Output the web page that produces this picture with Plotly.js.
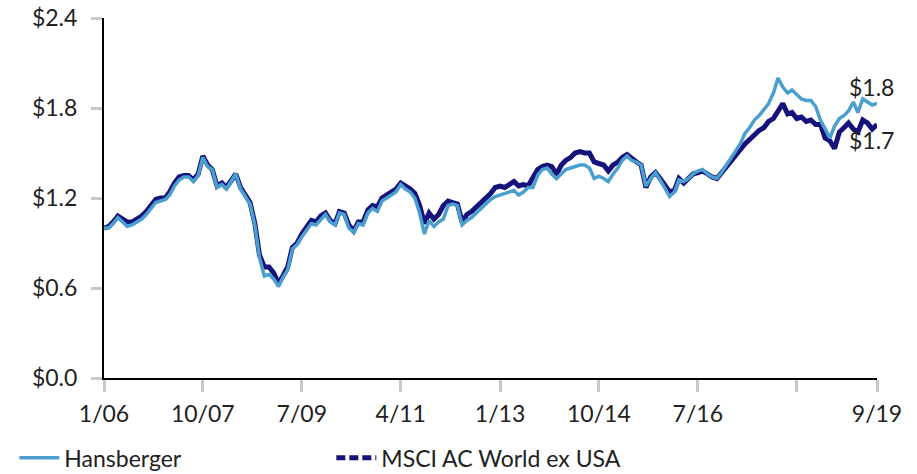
<!DOCTYPE html>
<html>
<head>
<meta charset="utf-8">
<script src="https://cdn.plot.ly/plotly-3.0.1.min.js"></script>
<style>
  html, body { margin: 0; padding: 0; background: #ffffff; }
  #chart { width: 917px; height: 474px; }
</style>
</head>
<body>
<div id="chart"></div>
<script>
// Monthly values, January 2006 through September 2019 (growth of $1)
const startYear = 2006, startMonth = 1;

const hansberger = [
  1.00, 1.00, 1.03, 1.07, 1.04, 1.01, 1.02, 1.04, 1.06, 1.09, 1.13, 1.17,
  1.18, 1.19, 1.22, 1.28, 1.32, 1.34, 1.34, 1.31, 1.35, 1.47, 1.41, 1.39,
  1.27, 1.29, 1.26, 1.31, 1.36, 1.26, 1.21, 1.16, 1.02, 0.80, 0.68, 0.69,
  0.66, 0.61, 0.67, 0.72, 0.86, 0.89, 0.94, 0.99, 1.03, 1.02, 1.06, 1.09,
  1.04, 1.02, 1.10, 1.09, 1.00, 0.97, 1.03, 1.02, 1.10, 1.13, 1.11, 1.18,
  1.20, 1.22, 1.24, 1.29, 1.26, 1.24, 1.20, 1.10, 0.96, 1.05, 1.01, 1.04,
  1.06, 1.15, 1.16, 1.15, 1.02, 1.05, 1.07, 1.10, 1.13, 1.165, 1.19, 1.21,
  1.22, 1.23, 1.24, 1.25, 1.22, 1.24, 1.27, 1.27, 1.35, 1.39, 1.40, 1.36,
  1.33, 1.36, 1.39, 1.40, 1.41, 1.42, 1.42, 1.40, 1.33, 1.345, 1.33, 1.31,
  1.36, 1.40, 1.45, 1.48, 1.45, 1.44, 1.42, 1.28, 1.33, 1.37, 1.32, 1.27,
  1.21, 1.24, 1.32, 1.31, 1.33, 1.36, 1.38, 1.39, 1.36, 1.34, 1.33, 1.37,
  1.42, 1.47, 1.52, 1.56, 1.63, 1.67, 1.72, 1.75, 1.79, 1.83, 1.90, 2.00,
  1.94, 1.90, 1.92, 1.89, 1.86, 1.85, 1.85, 1.81, 1.72, 1.66, 1.60, 1.68,
  1.73, 1.75, 1.78, 1.84, 1.77, 1.86, 1.84, 1.82, 1.83
];

const msci = [
  1.00, 1.01, 1.04, 1.08, 1.06, 1.04, 1.04, 1.06, 1.08, 1.11, 1.15, 1.19,
  1.20, 1.20, 1.24, 1.30, 1.34, 1.35, 1.35, 1.32, 1.36, 1.48, 1.42, 1.39,
  1.28, 1.30, 1.27, 1.31, 1.36, 1.27, 1.22, 1.17, 1.03, 0.82, 0.74, 0.74,
  0.70, 0.63, 0.68, 0.74, 0.87, 0.90, 0.96, 1.01, 1.05, 1.04, 1.08, 1.10,
  1.05, 1.03, 1.11, 1.10, 1.02, 0.98, 1.04, 1.04, 1.12, 1.15, 1.14, 1.20,
  1.22, 1.24, 1.26, 1.30, 1.28, 1.26, 1.23, 1.15, 1.03, 1.10, 1.06, 1.09,
  1.15, 1.18, 1.17, 1.16, 1.04, 1.09, 1.11, 1.14, 1.17, 1.20, 1.23, 1.27,
  1.28, 1.27, 1.29, 1.31, 1.28, 1.29, 1.28, 1.33, 1.39, 1.41, 1.42, 1.41,
  1.36, 1.42, 1.45, 1.47, 1.50, 1.51, 1.50, 1.50, 1.44, 1.43, 1.42, 1.38,
  1.42, 1.44, 1.47, 1.49, 1.46, 1.44, 1.42, 1.27, 1.34, 1.37, 1.33, 1.28,
  1.24, 1.25, 1.33, 1.30, 1.33, 1.36, 1.37, 1.38, 1.36, 1.34, 1.33, 1.37,
  1.41, 1.45, 1.49, 1.53, 1.56, 1.59, 1.62, 1.65, 1.67, 1.71, 1.73, 1.78,
  1.83, 1.76, 1.77, 1.73, 1.74, 1.71, 1.72, 1.69, 1.69, 1.60, 1.58, 1.53,
  1.64, 1.67, 1.70, 1.66, 1.64, 1.72, 1.70, 1.66, 1.69
];

const tickDates = ['2006-01-01','2007-10-01','2009-07-01','2011-04-01','2013-01-01',
                   '2014-10-01','2016-07-01','2018-04-01','2019-09-01'];
const tickLabels = ['1/06','10/07','7/09','4/11','1/13','10/14','7/16','','9/19'];
const yTicks = [0, 0.6, 1.2, 1.8, 2.4];
const yTickLabels = ['$0.0','$0.6','$1.2','$1.8','$2.4'];
const seriesNames = ['Hansberger', 'MSCI AC World ex USA'];

// month dates for the x axis
const dates = hansberger.map((_, i) => {
  const y = startYear + Math.floor((startMonth - 1 + i) / 12);
  const m = ((startMonth - 1 + i) % 12) + 1;
  return y + '-' + String(m).padStart(2, '0') + '-01';
});

const LIGHT = '#4a9fcf';
const NAVY = '#16127c';
const FONT = 'Lato, "Open Sans", sans-serif';
const FS = 23;

const traces = [
  { x: dates, y: msci, type: 'scatter', mode: 'lines', name: seriesNames[1],
    line: { color: NAVY, width: 5 }, showlegend: false, hoverinfo: 'skip' },
  { x: dates, y: hansberger, type: 'scatter', mode: 'lines', name: seriesNames[0],
    line: { color: LIGHT, width: 3.5 }, hoverinfo: 'skip' },
  { x: [null], y: [null], type: 'scatter', mode: 'lines', name: seriesNames[1],
    line: { color: NAVY, width: 5, dash: '9px,4px' }, hoverinfo: 'skip' }
];

const fmt = v => '$' + v.toFixed(1);

const layout = {
  width: 917, height: 474,
  margin: { l: 104, r: 40, t: 18, b: 96, autoexpand: false },
  paper_bgcolor: '#ffffff', plot_bgcolor: '#ffffff',
  font: { family: FONT, size: FS, color: '#222222' },
  showlegend: true,
  legend: {
    orientation: 'h', x: -0.116, xanchor: 'left', y: -0.222, yanchor: 'middle',
    entrywidth: 262, entrywidthmode: 'pixels',
    font: { family: FONT, size: FS, color: '#222222' },
    itemwidth: 40, tracegroupgap: 0
  },
  xaxis: {
    type: 'date',
    range: [dates[0], dates[dates.length - 1]],
    tickmode: 'array', tickvals: tickDates, ticktext: tickLabels,
    showgrid: false, zeroline: false,
    showline: true, linecolor: '#000000', linewidth: 2,
    ticks: 'outside', ticklen: 12, tickwidth: 3, tickcolor: '#c5c9cd',
    ticklabelstandoff: 2,
    tickfont: { family: FONT, size: FS, color: '#222222' }
  },
  yaxis: {
    range: [0, 2.4],
    tickmode: 'array', tickvals: yTicks, ticktext: yTickLabels,
    showgrid: false, zeroline: false,
    showline: true, linecolor: '#000000', linewidth: 2,
    ticks: 'outside', ticklen: 11, tickwidth: 3, tickcolor: '#c5c9cd',
    ticklabelstandoff: 9,
    tickfont: { family: FONT, size: FS, color: '#222222' }
  },
  annotations: [
    { xref: 'paper', yref: 'y', x: 0.9935, y: 1.94, text: fmt(hansberger[hansberger.length - 1]),
      showarrow: false, xanchor: 'center', yanchor: 'middle',
      font: { family: FONT, size: FS, color: '#222222' } },
    { xref: 'paper', yref: 'y', x: 0.9935, y: 1.59, text: fmt(msci[msci.length - 1]),
      showarrow: false, xanchor: 'center', yanchor: 'middle',
      font: { family: FONT, size: FS, color: '#222222' } }
  ]
};

Plotly.newPlot('chart', traces, layout, { staticPlot: true, displayModeBar: false });
</script>
</body>
</html>
